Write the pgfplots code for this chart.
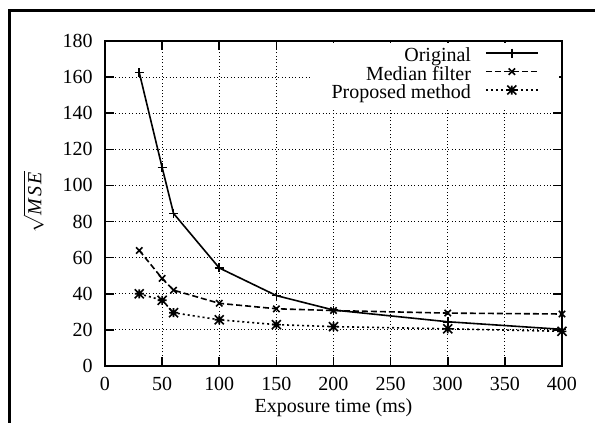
\documentclass[border=0pt]{standalone}
\usepackage{fontspec}
\setmainfont{Liberation Serif}
\usepackage{pgfplots}
\pgfplotsset{compat=1.18}
\pgfdeclareplotmark{gpstar}{%
  \pgfpathmoveto{\pgfqpoint{-\pgfplotmarksize}{0pt}}%
  \pgfpathlineto{\pgfqpoint{\pgfplotmarksize}{0pt}}%
  \pgfpathmoveto{\pgfqpoint{0pt}{-\pgfplotmarksize}}%
  \pgfpathlineto{\pgfqpoint{0pt}{\pgfplotmarksize}}%
  \pgfpathmoveto{\pgfqpoint{-\pgfplotmarksize}{-\pgfplotmarksize}}%
  \pgfpathlineto{\pgfqpoint{\pgfplotmarksize}{\pgfplotmarksize}}%
  \pgfpathmoveto{\pgfqpoint{-\pgfplotmarksize}{\pgfplotmarksize}}%
  \pgfpathlineto{\pgfqpoint{\pgfplotmarksize}{-\pgfplotmarksize}}%
  \pgfusepathqstroke}
\begin{document}
\begin{tikzpicture}
\path[use as bounding box] (0,0) rectangle (297.5pt,211.5pt);
\draw[line width=1.15pt] (4.75pt,0pt) -- (4.75pt,206.25pt) -- (300pt,206.25pt);
\begin{axis}[
  at={(52.5pt,28.5pt)}, anchor=south west,
  scale only axis, width=228.5pt, height=162.5pt,
  xmin=0, xmax=400, ymin=0, ymax=180,
  xtick={0,50,...,400}, ytick={0,20,...,180},
  minor tick num=0,
  tick align=inside, major tick length=4.5pt,
  tick style={line width=0.8pt, black},
  axis line style={line width=0.8pt},
  /pgf/number format/assume math mode=true,
  xticklabel style={yshift=-2pt},
  yticklabel style={xshift=-2.7pt},
  grid=major,
  grid style={line width=0.45pt, black, dash pattern=on 0.5pt off 1.2pt},
  every axis x label/.style={at={(axis description cs:0.5,-0.1446)}, anchor=base},
  every axis y label/.style={at={(axis description cs:-0.1565,0.506)}, rotate=90, anchor=center},
  xlabel={Exposure time (ms)},
  ylabel={$\sqrt{\mathit{M}\mkern2mu\mathit{S}\mkern2mu\mathit{E}\mkern1mu}$},
  legend plot pos=right,
  legend style={at={(1,1)}, anchor=north east, xshift=-1.5pt, yshift=-1pt,
    draw=none, fill=white, inner xsep=10pt, inner ysep=2.5pt,
    column sep=7pt, row sep=0pt,
    nodes={inner sep=0pt, text height=6.8pt, text depth=2.4pt}},
  legend cell align=right,
  legend image code/.code={%
    \draw[mark repeat=2,mark phase=2,#1] plot coordinates {(0pt,2.2pt) (13pt,2.2pt) (26pt,2.2pt)};},
  mark size=2.25pt,
]
\addplot[black, line width=0.8pt, mark=+, mark options={solid}]
  coordinates {(30,162.5)(50,110)(60,84.5)(100,54.3)(150,39)(200,31)(300,24.5)(400,20.3)};
\addlegendentry{Original}
\addplot[black, line width=0.8pt, dash pattern=on 3pt off 1.5pt, mark=x, mark options={solid}]
  coordinates {(30,64)(50,48.5)(60,42)(100,34.7)(150,31.7)(200,30.7)(300,29.3)(400,28.8)};
\addlegendentry{Median filter}
\addplot[black, line width=0.8pt, dash pattern=on 1pt off 1.5pt, mark=gpstar, mark options={solid}]
  coordinates {(30,40)(50,36.4)(60,29.5)(100,25.6)(150,22.9)(200,21.8)(300,20.6)(400,19.2)};
\addlegendentry{Proposed method}
\end{axis}
\end{tikzpicture}
\end{document}
